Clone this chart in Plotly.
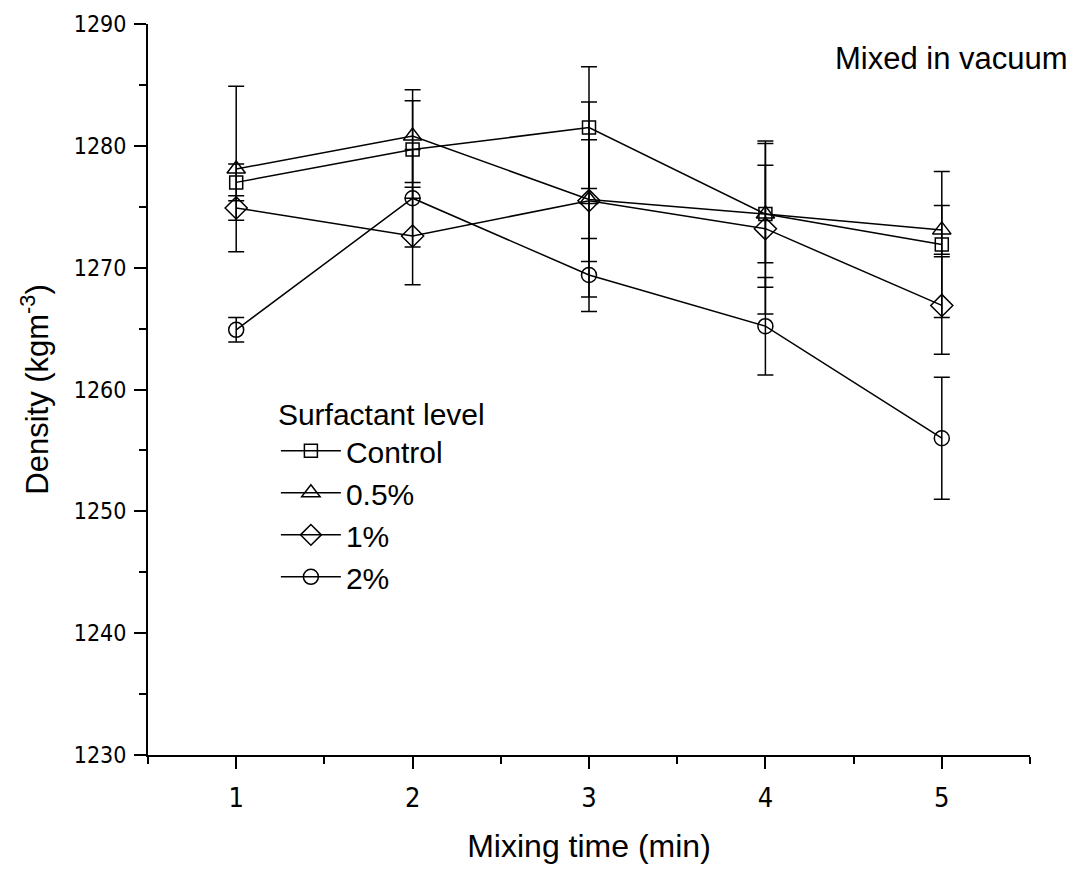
import plotly.graph_objects as go

mixing_time = [1, 2, 3, 4, 5]
series_names = ["Control", "0.5%", "1%", "2%"]
control = [1277.0, 1279.7, 1281.5, 1274.4, 1271.9]
control_err = [1.5, 4.0, 5.0, 4.0, 6.0]
pct05 = [1278.1, 1280.8, 1275.6, 1274.4, 1273.1]
pct05_err = [6.8, 3.8, 8.0, 6.0, 2.0]
pct1 = [1274.9, 1272.6, 1275.5, 1273.2, 1266.9]
pct1_err = [1.0, 4.0, 5.0, 7.0, 4.0]
pct2 = [1264.9, 1275.7, 1269.4, 1265.2, 1256.0]
pct2_err = [1.0, 4.0, 3.0, 4.0, 5.0]

values = [control, pct05, pct1, pct2]
errors = [control_err, pct05_err, pct1_err, pct2_err]
symbols = ["square-open", "triangle-up-open", "diamond-open", "circle-open"]
sizes = [13, 16, 17, 15]

FONT = "Liberation Sans, Arial, sans-serif"
NARROW = "Liberation Sans Narrow, DejaVu Sans Condensed, Arial Narrow, sans-serif"

fig = go.Figure()
for name, v, e, s, sz in zip(series_names, values, errors, symbols, sizes):
    fig.add_trace(go.Scatter(
        x=mixing_time, y=v, name=name, mode="lines+markers",
        line=dict(color="black", width=1.5),
        marker=dict(symbol=s, size=sz, color="black", line=dict(width=1.5, color="black")),
        error_y=dict(type="data", array=e, visible=True, color="black", thickness=1.5, width=8),
    ))

fig.update_layout(
    width=1079, height=871,
    margin=dict(l=148, r=49, t=24, b=116),
    paper_bgcolor="white", plot_bgcolor="white",
    font=dict(family=FONT, color="black"),
    showlegend=True,
    legend=dict(
        title=dict(text="Surfactant level", font=dict(size=30, family=FONT)),
        font=dict(size=30, family=FONT),
        x=0.145, y=0.505, xanchor="left", yanchor="top",
        bgcolor="rgba(0,0,0,0)", tracegroupgap=0, itemwidth=60,
    ),
    annotations=[dict(
        text="Mixed in vacuum", x=1.045, y=0.953, xref="paper", yref="paper",
        xanchor="right", yanchor="middle", showarrow=False,
        font=dict(size=31, family=FONT, color="black"),
    )],
)

fig.update_xaxes(
    range=[0.5, 5.5], showgrid=False, zeroline=False,
    showline=True, linecolor="black", linewidth=2,
    ticks="outside", ticklen=12, tickwidth=1.5, tickcolor="black",
    tickvals=[1, 2, 3, 4, 5], ticktext=["1", "2", "3", "4", "5"],
    tickfont=dict(size=27, family=NARROW), ticklabelstandoff=6,
    minor=dict(ticks="outside", ticklen=7, tickwidth=1.5, tickcolor="black", dtick=0.5),
    title=dict(text="Mixing time (min)", font=dict(size=32, family=FONT), standoff=22),
)
fig.update_yaxes(
    range=[1230, 1290], showgrid=False, zeroline=False,
    showline=True, linecolor="black", linewidth=2,
    ticks="outside", ticklen=12, tickwidth=1.5, tickcolor="black",
    tickvals=[1230, 1240, 1250, 1260, 1270, 1280, 1290],
    tickfont=dict(size=23, family=NARROW), ticklabelstandoff=3,
    minor=dict(ticks="outside", ticklen=7, tickwidth=1.5, tickcolor="black", dtick=5),
    title=dict(text="Density (kgm<sup>-3</sup>)", font=dict(size=31, family=FONT), standoff=16),
)

fig.write_html("out.html")
